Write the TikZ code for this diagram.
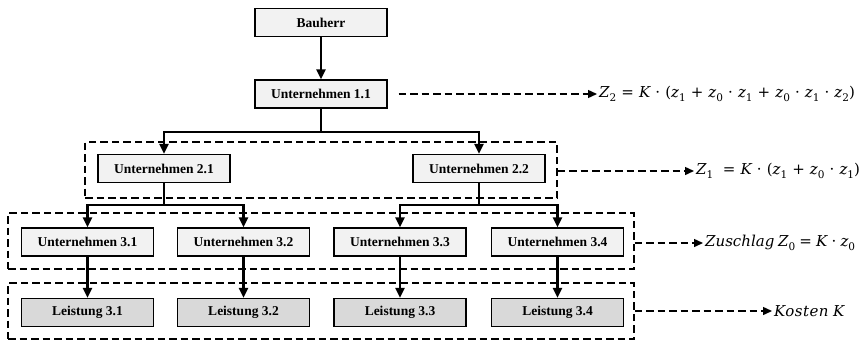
\documentclass[tikz,border=0pt]{standalone}
\usepackage{fontspec}
\setmainfont{Liberation Serif}
\newfontfamily\fmfont{DejaVu Serif}
\usetikzlibrary{arrows.meta}
% formula pieces set in a text face
\newcommand{\fv}[1]{{\fmfont\itshape #1}}
\newcommand{\fs}[1]{\raisebox{-0.28em}{\fmfont\fontsize{10.5}{11}\selectfont #1}}
\newcommand{\fo}[1]{\hspace{0.34em}{\fmfont #1}\hspace{0.34em}}
\newcommand{\fp}[1]{{\fmfont #1}}
\begin{document}
\begin{tikzpicture}[x=1pt,y=-1pt,
  box/.style={draw=black,line width=1.3pt,fill=gray!10,minimum width=132pt,minimum height=28pt,
    inner sep=0pt,font=\fontsize{13.5}{15}\selectfont\bfseries},
  cost/.style={box,fill=gray!30},
  grp/.style={draw=black,line width=1.4pt,dash pattern=on 7.5pt off 4pt,inner sep=0pt},
  conn/.style={line width=2.5pt,-{Triangle[length=10pt,width=9pt]}},
  link/.style={line width=2.5pt},
  darr/.style={line width=1.4pt,dash pattern=on 7.5pt off 4pt,-{Triangle[length=9pt,width=8pt]}},
  formula/.style={anchor=west,inner sep=2pt,font=\fontsize{15}{18}\selectfont}]
\useasboundingbox (0,0) rectangle (861,342);

% dashed group frames
\node[grp,minimum width=472pt,minimum height=56pt] (g2) at (321,170) {};
\node[grp,minimum width=626pt,minimum height=56pt] (g3) at (321,241) {};
\node[grp,minimum width=626pt,minimum height=56pt] (g4) at (321,311) {};

% hierarchy
\node[box] (bh) at (321,22.5) {Bauherr};
\node[box] (u11) at (321,94) {Unternehmen 1.1};
\node[box] (u21) at (164,168.5) {Unternehmen 2.1};
\node[box] (u22) at (479,168.5) {Unternehmen 2.2};
\node[box] (u31) at (87.5,242) {Unternehmen 3.1};
\node[box] (u32) at (243.5,242) {Unternehmen 3.2};
\node[box] (u33) at (400,242) {Unternehmen 3.3};
\node[box] (u34) at (557.5,242) {Unternehmen 3.4};
\node[cost] (l31) at (87.5,312.5) {Leistung 3.1};
\node[cost] (l32) at (243.5,312.5) {Leistung 3.2};
\node[cost] (l33) at (400,312.5) {Leistung 3.3};
\node[cost] (l34) at (557.5,312.5) {Leistung 3.4};

% branch points
\coordinate (b1) at (321,132);
\coordinate (b2) at (164,205);
\coordinate (b3) at (479,205);

\draw[conn] (bh) -- (u11);
\draw[link] (u11) -- (b1);
\draw[conn] (b1) -| (u21);
\draw[conn] (b1) -| (u22);
\draw[link] (u21) -- (b2);
\draw[conn] (b2) -| (u31);
\draw[conn] (b2) -| (u32);
\draw[link] (u22) -- (b3);
\draw[conn] (b3) -| (u33);
\draw[conn] (b3) -| (u34);
\draw[conn] (u31) -- (l31);
\draw[conn] (u32) -- (l32);
\draw[conn] (u33) -- (l33);
\draw[conn] (u34) -- (l34);

% formulas
\node[formula] (f2) at (597,94) {\fv{Z}\fs{2}\fo{=}\fv{K}\fo{·}\fp{(}\fv{z}\fs{1}\fo{+}\fv{z}\fs{0}\fo{·}\fv{z}\fs{1}\fo{+}\fv{z}\fs{0}\fo{·}\fv{z}\fs{1}\fo{·}\fv{z}\fs{2}\fp{)}};
\node[formula] (f1) at (694,171) {\fv{Z}\fs{1}\hspace{0.3em}\fo{=}\fv{K}\fo{·}\fp{(}\fv{z}\fs{1}\fo{+}\fv{z}\fs{0}\fo{·}\fv{z}\fs{1}\fp{)}};
\node[formula] (f0) at (703,243) {\fv{Zuschlag}\hspace{0.25em}\fv{Z}\fs{0}\hspace{0.28em}{\fmfont =}\hspace{0.28em}\fv{K}\hspace{0.28em}{\fmfont ·}\hspace{0.28em}\fv{z}\fs{0}};
\node[formula] (fk) at (772,311) {{\fmfont\itshape\addfontfeature{LetterSpace=3}Kosten}\hspace{0.3em}\fv{K}};

\draw[darr,shorten <=11pt] (u11.east) -- (f2.west);
\draw[darr] (g2.east |- f1.west) -- (f1.west);
\draw[darr] (g3.east |- f0.west) -- (f0.west);
\draw[darr] (g4.east |- fk.west) -- (fk.west);
\end{tikzpicture}
\end{document}
